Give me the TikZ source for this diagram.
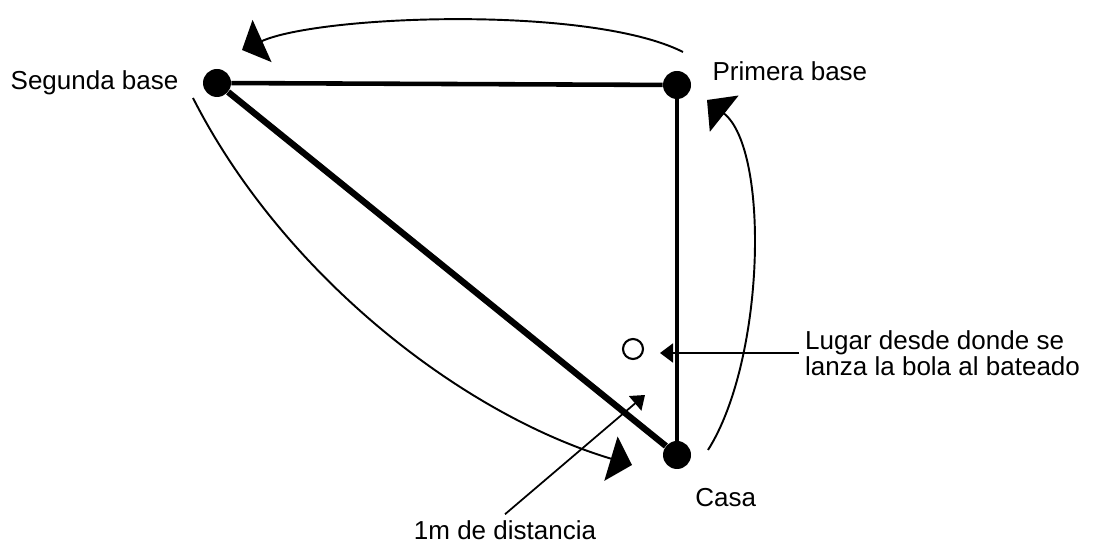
\documentclass[tikz,border=0pt]{standalone}
\usepackage{fontspec}
\setmainfont{Liberation Sans}
\usetikzlibrary{arrows.meta, positioning}
\tikzstyle{runarrow} = [line width=1.1pt, -{Triangle[length=0.44cm, width=0.92cm]}]
\tikzstyle{ptrarrow} = [line width=1pt, -{Triangle[length=0.26cm, width=0.38cm]}]

\begin{document}
\begin{tikzpicture}[font=\fontsize{14.8pt}{13.5pt}\selectfont]
        \useasboundingbox (0,0) rectangle (22.02,10.86);
        \tikzstyle{base}=[circle, fill=black, minimum size=0.56cm, inner sep=0pt]
        \node (s2) [base] at (4.34,9.20) {};
        \node (p1) [base] at (13.54,9.16) {};
        \node (home) [base] at (13.54,1.76) {};
        \node (mound) [circle, draw, line width=1.2pt, minimum size=0.4cm, inner sep=0pt] at (12.66,3.88) {};
        \node (s2lbl) [left=0.36cm of s2] {Segunda base};
        \node (p1lbl) [right=0.3cm of p1, yshift=0.28cm] {Primera base};
        \node (homelbl) [below right=0.34cm and 0.04cm of home] {Casa};
        \node (dist) at (10.1,0.26) {1m de distancia};
        \node (lugar) [anchor=west, align=left] at (15.98,3.80) {Lugar desde donde se\\lanza la bola al bateado};
        % ends of the running arcs and pointers
        \coordinate (topA) at (13.66,9.82);
        \coordinate (topB) at (4.84,9.86);
        \coordinate (rightA) at (14.16,1.86);
        \coordinate (rightB) at (14.14,8.86);
        \coordinate (leftA) at (3.86,8.90);
        \coordinate (leftB) at (12.64,1.56);
        \coordinate (pitch) at (13.2,3.80);
        \coordinate (gap) at (12.9,2.96);
        % the field
        \draw[line width=2.6pt] (s2) -- (p1);
        \draw[line width=2.6pt] (p1) -- (home);
        \draw[line width=3.6pt] (s2) -- (home);
        % running arcs
        \draw[runarrow] (topA) .. controls (11.8,10.76) and (6.4,10.56) .. (topB);
        \draw[runarrow] (rightA) .. controls (15.3,3.66) and (15.4,7.86) .. (rightB);
        \draw[runarrow] (leftA) .. controls (5.66,5.36) and (9.24,2.58) .. (leftB);
        % pointers
        \draw[ptrarrow] (lugar.west) -- (pitch);
        \draw[ptrarrow] (dist.north) -- (gap);
\end{tikzpicture}
\end{document}
